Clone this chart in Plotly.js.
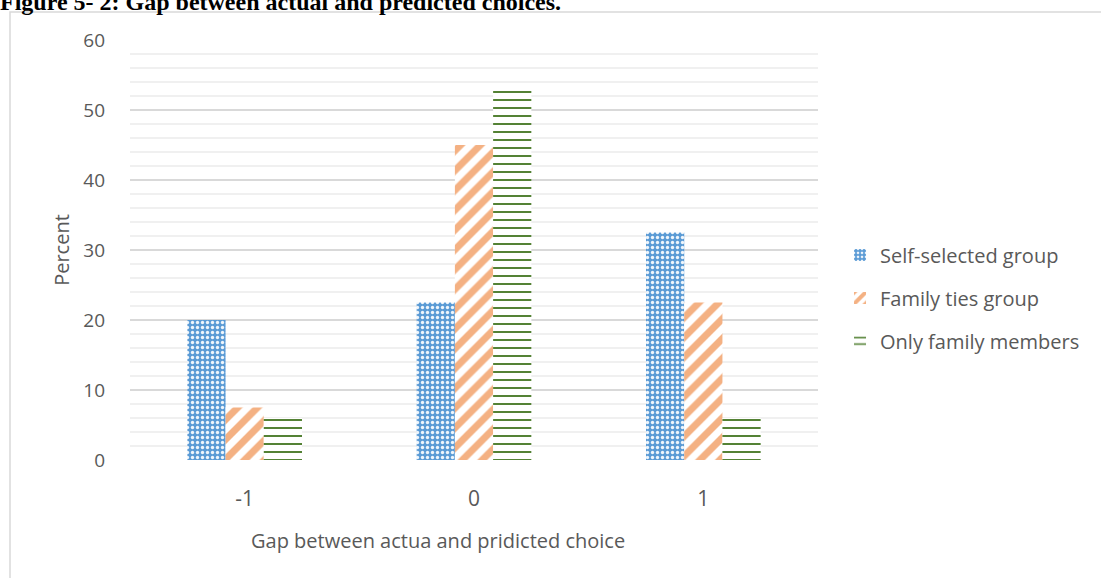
<!DOCTYPE html>
<html>
<head>
<meta charset="utf-8">
<script src="https://cdn.plot.ly/plotly-3.0.1.min.js"></script>
<style>
  html, body { margin: 0; padding: 0; background: #ffffff; }
  #chart { width: 1101px; height: 578px; }
</style>
</head>
<body>
<div id="chart"></div>
<script>
// Gap between actual and predicted choice (-1, 0, 1), share of respondents in percent
const gapCategories = ['-1', '0', '1'];
const selfSelected = [20, 22.5, 32.5];
const familyTies = [7.5, 45, 22.5];
const onlyFamily = [6, 53.5, 6];
const seriesNames = ['Self-selected group', 'Family ties group', 'Only family members'];
const yTicks = [0, 10, 20, 30, 40, 50, 60];

const textColor = '#595959';
const font = 'Open Sans, Noto Sans, sans-serif';

const traces = [
  {
    type: 'bar', name: seriesNames[0], x: gapCategories, y: selfSelected,
    legendgroup: 'a',
    marker: {
      color: '#5B9BD5', line: {width: 0},
      pattern: {shape: '.', bgcolor: '#5B9BD5', fgcolor: '#ffffff', fgopacity: 0.9,
                size: 5, solidity: 0.35, fillmode: 'overlay'}
    },
    hoverinfo: 'skip'
  },
  {
    type: 'bar', name: seriesNames[1], x: gapCategories, y: familyTies,
    legendgroup: 'b',
    marker: {
      color: '#F4B183', line: {width: 0},
      pattern: {shape: '/', bgcolor: '#ffffff', fgcolor: '#F4B183', fgopacity: 1,
                size: 14, solidity: 0.5, fillmode: 'overlay'}
    },
    hoverinfo: 'skip'
  },
  {
    type: 'bar', name: seriesNames[2], x: gapCategories, y: onlyFamily,
    legendgroup: 'c',
    marker: {
      color: '#548235', line: {width: 0},
      pattern: {shape: '-', bgcolor: '#ffffff', fgcolor: '#548235', fgopacity: 1,
                size: 8, solidity: 0.25, fillmode: 'overlay'}
    },
    hoverinfo: 'skip'
  }
];

const layout = {
  width: 1101, height: 578,
  margin: {l: 130, r: 283, t: 40, b: 118, pad: 0},
  paper_bgcolor: '#ffffff', plot_bgcolor: '#ffffff',
  font: {family: font, size: 20, color: textColor},
  barmode: 'group', bargap: 0.5, bargroupgap: 0,
  showlegend: true,
  title: {
    text: '<b>Figure 5- 2: Gap between actual and predicted choices.</b>',
    font: {family: 'Liberation Serif, Times New Roman, serif', size: 24, color: '#000000'},
    x: 0, xanchor: 'left', xref: 'container',
    y: 0.998, yanchor: 'middle', yref: 'container', pad: {t: 0, l: 0}
  },
  legend: {
    x: 1.032, xanchor: 'left', y: 0.386, yanchor: 'middle',
    traceorder: 'grouped', tracegroupgap: 14,
    font: {family: font, size: 20, color: textColor},
    bgcolor: 'rgba(0,0,0,0)', itemwidth: 30
  },
  xaxis: {
    type: 'category', showgrid: false, zeroline: false, showline: false,
    ticks: '', ticklabelstandoff: 24,
    tickfont: {family: font, size: 21, color: textColor}
  },
  yaxis: {
    range: [0, 60], tickvals: yTicks, zeroline: false, showline: false,
    gridcolor: '#d9d9d9', gridwidth: 1.3,
    ticks: '', ticklabelstandoff: 24,
    tickfont: {family: font, size: 19, color: textColor},
    minor: {dtick: 2, showgrid: true, gridcolor: '#f0f0f0', gridwidth: 1.3, ticks: ''},
    title: {text: 'Percent', standoff: 8, font: {family: font, size: 20, color: textColor}}
  },
  annotations: [{
    // horizontal axis title, centred on the chart frame rather than the plot area
    text: 'Gap between actua and pridicted choice', showarrow: false,
    xref: 'paper', yref: 'paper', x: (438 - 130) / 688, y: (460 - 540) / 420,
    xanchor: 'center', yanchor: 'middle',
    font: {family: font, size: 20, color: textColor}
  }],
  shapes: [{
    type: 'rect', xref: 'paper', yref: 'paper', layer: 'below',
    x0: (10 - 130) / 688, x1: (1110 - 130) / 688,
    y0: (460 - 590) / 420, y1: (460 - 12) / 420,
    line: {color: '#d9d9d9', width: 1.5}, fillcolor: 'rgba(0,0,0,0)'
  }]
};

Plotly.newPlot('chart', traces, layout, {displayModeBar: false, staticPlot: true});
</script>
</body>
</html>
